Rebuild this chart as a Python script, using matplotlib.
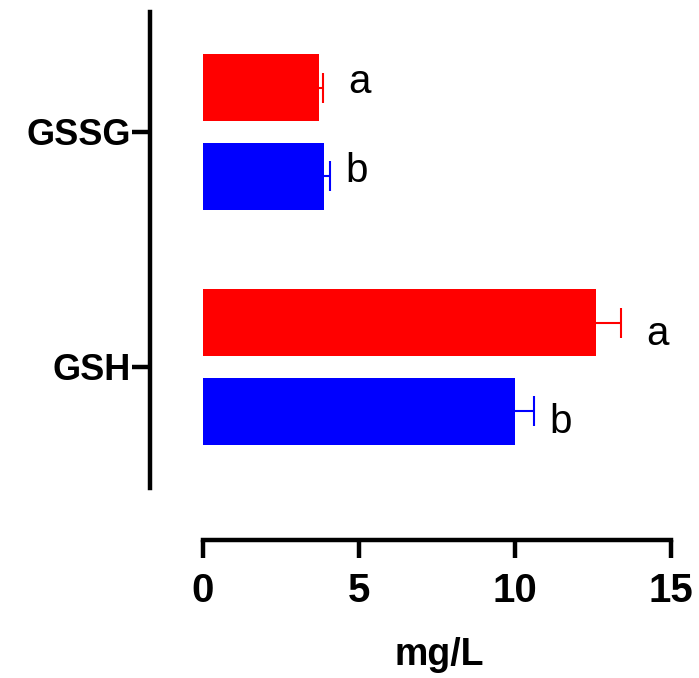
import numpy as np
import matplotlib
matplotlib.use('Agg')
from matplotlib import pyplot as plt

plt.rcParams['font.family'] = ['Liberation Sans', 'DejaVu Sans']

groups = ['GSSG', 'GSH']
red_vals = [3.72, 12.61]
red_err = [0.13, 0.80]
red_marks = ['a', 'a']
blue_vals = [3.89, 10.00]
blue_err = [0.17, 0.61]
blue_marks = ['b', 'b']

y = np.array([1.0, 0.0])
off = 0.188
h = 0.285
mark_dy = [4, -8]  # vertical nudge of the letters per group, points

fig = plt.figure(figsize=(6.99, 6.78), dpi=100)
ax = fig.add_axes([150 / 699, 190 / 678, (671 - 150) / 699, (488 - 12) / 678])

for s in ['top', 'right']:
    ax.spines[s].set_visible(False)
for s in ['left', 'bottom']:
    ax.spines[s].set_linewidth(3.2)
ax.spines['bottom'].set_position(('outward', 37.4))
ax.spines['bottom'].set_bounds(0, 15)


def draw_series(ypos, vals, errs, marks, color, dx):
    ax.barh(ypos, vals, h, color=color)
    # one-sided error bars: stem + cap on the right only
    for yy, v, e, t, dy in zip(ypos, vals, errs, marks, mark_dy):
        ax.plot([v, v + e], [yy, yy], color=color, lw=1.5, solid_capstyle='butt')
        ax.plot([v + e], [yy], marker='|', ms=20.9, mew=1.5, color=color)
        ax.annotate(t, (v + e, yy), xytext=(dx, dy), textcoords='offset points',
                    va='center', ha='left', fontsize=29)


draw_series(y + off, red_vals, red_err, red_marks, '#FF0000', 18)
draw_series(y - off, blue_vals, blue_err, blue_marks, '#0000FF', 11)

ax.set_xlim(-53 / 31.2, 15)
ax.set_ylim(-0.515, 1.51)
ax.set_yticks(y)
ax.set_yticklabels(groups, fontsize=26, fontweight='bold')
ax.set_xticks([0, 5, 10, 15])
ax.set_xticklabels(['0', '5', '10', '15'], fontsize=29, fontweight='bold')
ax.set_xlabel('mg/L', fontsize=27, fontweight='bold')
ax.xaxis.set_label_coords(0.555, -0.313)

ax.tick_params(axis='both', width=3.2, length=13, colors='black')
ax.tick_params(axis='y', pad=1)
ax.tick_params(axis='x', pad=10)

fig.savefig('out.png', dpi=100)
